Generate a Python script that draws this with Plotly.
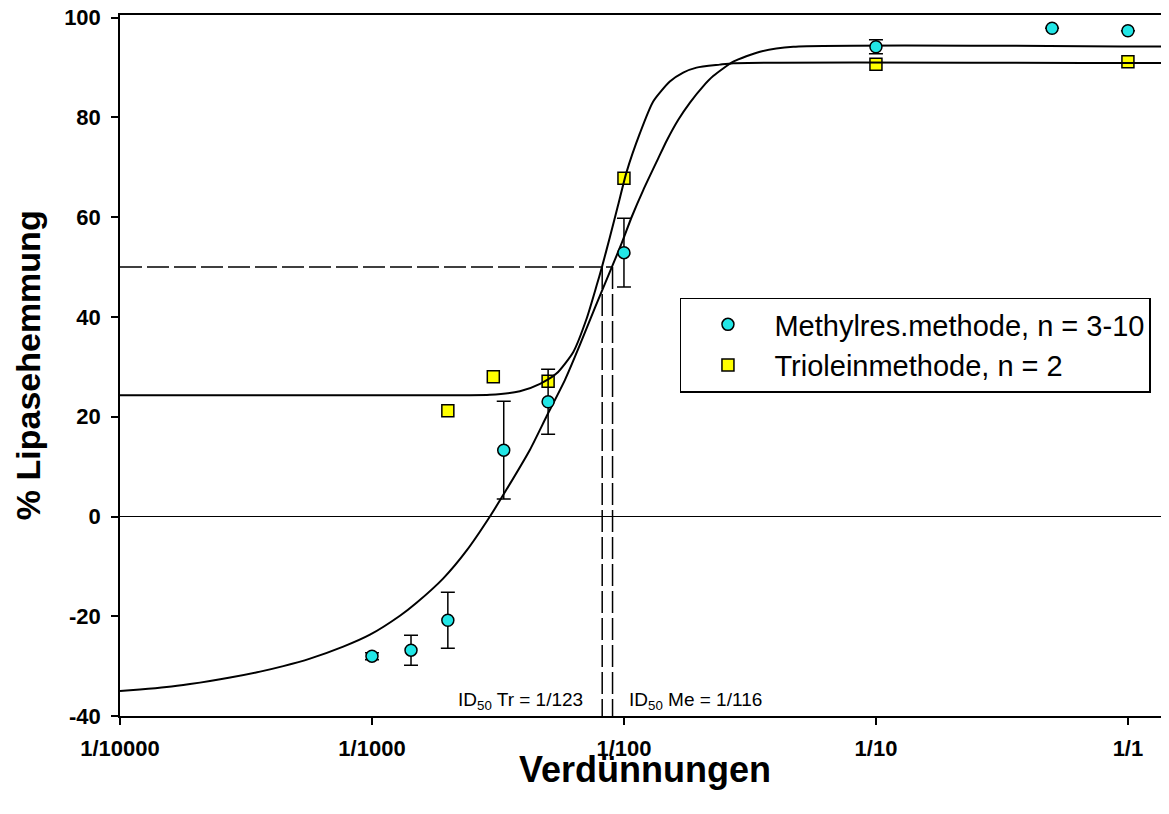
import math
import plotly.graph_objects as go

# ---------------- data ----------------
# Methylresorufin method (mean +- SD)
me_x = [1/1000, 1/700, 1/500, 1/300, 1/200, 1/100, 1/10, 1/2, 1/1]
me_y = [-28.0, -26.8, -20.8, 13.3, 23.0, 52.9, 94.2, 97.9, 97.4]
me_err = [0.7, 3.0, 5.6, 9.8, 6.5, 6.9, 1.4, 0.0, 0.0]

# Triolein method
tr_x = [1/500, 1/330, 1/200, 1/100, 1/10, 1/1]
tr_y = [21.2, 28.0, 27.1, 67.8, 90.7, 91.2]

# fitted curves (log10 of dilution, % inhibition)
me_curve_log10x = [-4.0, -3.921, -3.815, -3.722, -3.643, -3.563, -3.444, -3.352,
                   -3.246, -3.114, -3.008, -2.889, -2.823, -2.717, -2.624, -2.532,
                   -2.465, -2.373, -2.307, -2.234, -2.175, -2.115, -2.049, -2.009,
                   -1.969, -1.923, -1.864, -1.831, -1.785, -1.738, -1.685, -1.646,
                   -1.566, -1.460, -1.328, 0.163]
me_curve_y = [-35.0, -34.7, -34.2, -33.6, -33.0, -32.3, -31.1, -30.0,
              -28.5, -26.1, -23.7, -19.9, -17.3, -12.4, -6.8, 0.0,
              5.5, 13.4, 20.1, 27.4, 34.4, 41.9, 49.9, 54.8,
              60.1, 65.5, 71.8, 75.3, 79.5, 83.0, 86.3, 88.3,
              91.2, 93.2, 94.2, 94.2]

tr_curve_log10x = [-4.0, -3.0, -2.532, -2.413, -2.333, -2.267, -2.201, -2.148,
                   -2.108, -2.088, -2.056, -2.023, -1.990, -1.937, -1.884, -1.818,
                   -1.765, -1.712, -1.620, -1.566, 0.163]
tr_curve_y = [24.3, 24.3, 24.4, 25.1, 26.6, 28.7, 33.0, 39.7,
              46.4, 49.9, 56.0, 62.5, 69.0, 76.8, 83.2, 87.2,
              89.0, 90.0, 90.6, 90.9, 90.9]

# ID50 read-off lines
id50_level = 50
id50_tr_x = 1/122
id50_me_x = 1/111
id50_labels = ["ID<sub>50</sub> Tr = 1/123", "ID<sub>50</sub> Me = 1/116"]

x_tickvals = [1e-4, 1e-3, 1e-2, 1e-1, 1]
x_ticktext = ["1/10000", "1/1000", "1/100", "1/10", "1/1"]
y_tickvals = [-40, -20, 0, 20, 40, 60, 80, 100]
y_ticktext = ["-40", "-20", "0", "20", "40", "60", "80", "100"]

series_names = ["Methylres.methode, n = 3-10", "Trioleinmethode, n = 2"]
x_title = "Verdünnungen"
y_title = "% Lipasehemmung"

# ---------------- figure ----------------
FONT = "Liberation Sans, Arial, sans-serif"
x_min, x_max = 1e-4, 10 ** 0.163
y_min, y_max = -40, 100.55

fig = go.Figure()

# Triolein markers
fig.add_trace(go.Scatter(
    x=tr_x, y=tr_y, mode="markers", name=series_names[1],
    legendrank=2,
    marker=dict(symbol="square", size=12, color="#ffff00",
                line=dict(color="black", width=1.5)),
))

# fitted curves
fig.add_trace(go.Scatter(
    x=[10 ** v for v in tr_curve_log10x], y=tr_curve_y, mode="lines",
    line=dict(color="black", width=2, shape="spline", smoothing=0.6),
    showlegend=False, hoverinfo="skip"))
fig.add_trace(go.Scatter(
    x=[10 ** v for v in me_curve_log10x], y=me_curve_y, mode="lines",
    line=dict(color="black", width=2, shape="spline", smoothing=0.6),
    showlegend=False, hoverinfo="skip"))

# dashed ID50 lines
dash = "22px,5px"
fig.add_trace(go.Scatter(
    x=[x_min, id50_me_x], y=[id50_level, id50_level], mode="lines",
    line=dict(color="black", width=1.5, dash=dash),
    showlegend=False, hoverinfo="skip"))
for xv in (id50_tr_x, id50_me_x):
    fig.add_trace(go.Scatter(
        x=[xv, xv], y=[id50_level, y_min], mode="lines",
        line=dict(color="black", width=1.5, dash=dash),
        showlegend=False, hoverinfo="skip"))

# Methylres markers with error bars
fig.add_trace(go.Scatter(
    x=me_x, y=me_y, mode="markers", name=series_names[0],
    legendrank=1,
    error_y=dict(type="data", array=me_err, visible=True,
                 color="black", thickness=1.5, width=7),
    marker=dict(symbol="circle", size=12, color="#22e6e6",
                line=dict(color="black", width=1.5)),
))

fig.add_annotation(x=math.log10(id50_tr_x), y=-36.9, xref="x", yref="y",
                   text=id50_labels[0], showarrow=False, xanchor="right",
                   xshift=-17, font=dict(family=FONT, size=19, color="black"))
fig.add_annotation(x=math.log10(id50_me_x), y=-36.9, xref="x", yref="y",
                   text=id50_labels[1], showarrow=False, xanchor="left",
                   xshift=14, font=dict(family=FONT, size=19, color="black"))

# axis titles
fig.add_annotation(x=-0.088, y=0.5, xref="paper", yref="paper",
                   text=y_title, textangle=-90, showarrow=False,
                   xanchor="center", yanchor="middle",
                   font=dict(family=FONT, size=34, color="black", weight="bold"))
fig.add_annotation(x=0.5, y=-0.077, xref="paper", yref="paper",
                   text=x_title, showarrow=False, xanchor="center",
                   yanchor="middle",
                   font=dict(family=FONT, size=36, color="black", weight="bold"))

# the page adds an 8 px body margin, so the figure is 8 px smaller each way
fig.update_layout(
    width=1161, height=806,
    margin=dict(l=112, r=0, t=7, b=97.5, autoexpand=False),
    paper_bgcolor="white", plot_bgcolor="white",
    showlegend=True,
    legend=dict(x=0.5338, y=0.597, xanchor="left", yanchor="top",
                bgcolor="white", bordercolor="black", borderwidth=1.5,
                font=dict(family=FONT, size=29, color="black"),
                itemwidth=83, traceorder="normal"),
    xaxis=dict(type="log", range=[math.log10(x_min), math.log10(x_max)],
               tickvals=x_tickvals, ticktext=x_ticktext, automargin=False,
               ticklabeloverflow="allow",
               ticks="outside", ticklen=7, tickwidth=1.5, tickcolor="black",
               showline=True, linecolor="black", linewidth=1.5, mirror=True,
               showgrid=False, zeroline=False,
               tickfont=dict(family=FONT, size=22, color="black", weight="bold"),
               ticklabelstandoff=5),
    yaxis=dict(range=[y_min, y_max], tickvals=y_tickvals, ticktext=y_ticktext,
               automargin=False, ticklabeloverflow="allow",
               ticks="outside", ticklen=7, tickwidth=1.5, tickcolor="black",
               showline=True, linecolor="black", linewidth=1.5,
               showgrid=False, zeroline=True, zerolinecolor="black",
               zerolinewidth=1.2,
               tickfont=dict(family=FONT, size=22, color="black", weight="bold"),
               ticklabelstandoff=6),
)

fig.write_html("out.html")
